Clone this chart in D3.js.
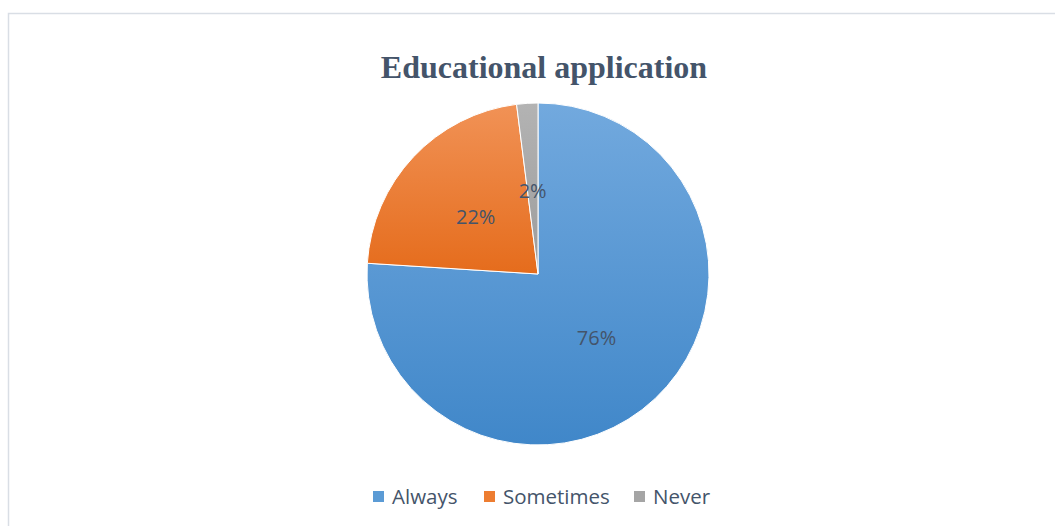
<!DOCTYPE html>
<html>
<head>
<meta charset="utf-8">
<script src="https://cdn.jsdelivr.net/npm/d3@7"></script>
<style>
  html, body { margin: 0; padding: 0; background: #fff; }
  svg { display: block; }
</style>
</head>
<body>
<svg id="chart" width="1055" height="526"></svg>
<script>
const categories = ["Always", "Sometimes", "Never"];
const values = [76, 22, 2];
const labels = ["76%", "22%", "2%"];
const colorsTop = ["#72A9DE", "#F19256", "#B3B3B3"];
const colorsBottom = ["#4087C9", "#E56C1C", "#9C9C9C"];
const legendColors = ["#5B9BD5", "#ED7D31", "#A5A5A5"];

const svg = d3.select("#chart");
const W = 1055, H = 526;
const cx = 538, cy = 274, R = 171;

// chart frame
svg.append("rect")
  .attr("x", 8.5).attr("y", 13.5)
  .attr("width", W + 10).attr("height", H + 10)
  .attr("fill", "#fff")
  .attr("stroke", "#D9DEE5").attr("stroke-width", 1.5);

// title
svg.append("text")
  .attr("x", 544).attr("y", 78)
  .attr("text-anchor", "middle")
  .attr("font-family", "'Liberation Serif', 'Times New Roman', serif")
  .attr("font-weight", "bold")
  .attr("font-size", 32)
  .attr("fill", "#44546A")
  .text("Educational application");

// vertical gradients per slice
const defs = svg.append("defs");
categories.forEach((c, i) => {
  const g = defs.append("linearGradient")
    .attr("id", "grad" + i)
    .attr("x1", 0).attr("y1", 0).attr("x2", 0).attr("y2", 1);
  g.append("stop").attr("offset", "0%").attr("stop-color", colorsTop[i]);
  g.append("stop").attr("offset", "100%").attr("stop-color", colorsBottom[i]);
});

const pie = d3.pie().sort(null).value(d => d);
const arcs = pie(values);
const arc = d3.arc().innerRadius(0).outerRadius(R);

const g = svg.append("g").attr("transform", `translate(${cx},${cy})`);
g.selectAll("path.slice")
  .data(arcs)
  .join("path")
  .attr("class", "slice")
  .attr("d", arc)
  .attr("fill", (d, i) => `url(#grad${i})`)
  .attr("stroke", "#fff")
  .attr("stroke-width", 1);

// percentage labels, centred at half the radius
const labelArc = d3.arc().innerRadius(R * 0.5).outerRadius(R * 0.5);
g.selectAll("text.lbl")
  .data(arcs)
  .join("text")
  .attr("class", "lbl")
  .attr("transform", d => `translate(${labelArc.centroid(d)})`)
  .attr("text-anchor", "middle")
  .attr("dy", "0.45em")
  .attr("font-family", "'Open Sans', 'Liberation Sans', sans-serif")
  .attr("font-size", 20)
  .attr("fill", "#44546A")
  .text((d, i) => labels[i]);

// legend
const legendX = [373, 484, 634];
const legend = svg.append("g");
categories.forEach((c, i) => {
  legend.append("rect")
    .attr("x", legendX[i]).attr("y", 491)
    .attr("width", 11).attr("height", 11)
    .attr("fill", legendColors[i]);
  legend.append("text")
    .attr("x", legendX[i] + 19).attr("y", 504)
    .attr("font-family", "'Open Sans', 'Liberation Sans', sans-serif")
    .attr("font-size", 20.5)
    .attr("fill", "#44546A")
    .text(c);
});
</script>
</body>
</html>
